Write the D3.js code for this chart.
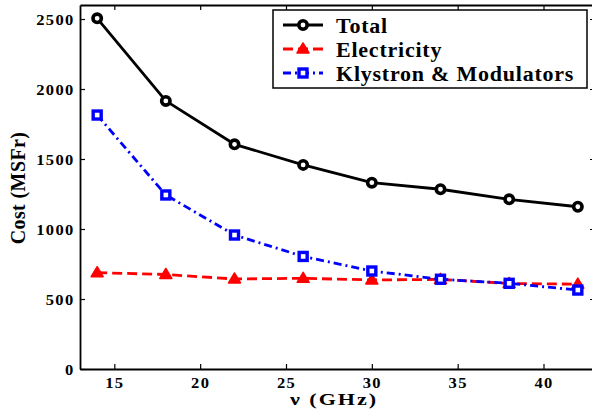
<!DOCTYPE html>
<html>
<head>
<meta charset="utf-8">
<script src="https://cdn.jsdelivr.net/npm/d3@7"></script>
<style>
  html, body { margin: 0; padding: 0; background: #fff; }
  svg { display: block; }
  text { font-family: "Liberation Serif", "Times New Roman", serif; font-weight: bold; fill: #000; }
</style>
</head>
<body>
<svg id="chart" width="592" height="413"></svg>
<script>
// Frequency points (GHz)
const freqs = [14, 18, 22, 26, 30, 34, 38, 42];
// Cost series (MSFr)
const totalCost = [2505, 1915, 1605, 1458, 1331, 1284, 1212, 1159];
const electricityCost = [688, 675, 643, 648, 636, 640, 611, 606];
const klystronCost = [1814, 1243, 957, 804, 700, 641, 612, 564];
// Axis ticks
const xTicks = [15, 20, 25, 30, 35, 40];
const yTicks = [0, 500, 1000, 1500, 2000, 2500];
const seriesNames = ["Total", "Electricity", "Klystron & Modulators"];

const svg = d3.select("#chart");
const plotLeft = 80, plotRight = 595, plotTop = 5, plotBottom = 369;

const x = d3.scaleLinear().domain([13, 43]).range([plotLeft, plotRight]);
const y = d3.scaleLinear().domain([0, 2600]).range([plotBottom, plotTop]);

const series = [
  { name: seriesNames[0], values: totalCost, color: "#000000", dash: null, marker: "circle" },
  { name: seriesNames[1], values: electricityCost, color: "#ff0000", dash: "10,5", marker: "triangle" },
  { name: seriesNames[2], values: klystronCost, color: "#0000ff", dash: "8,4,2,4", marker: "square" }
];

// Axes: labelled bottom/left, tick-only top/right, ticks pointing inward
function styleAxis(g) {
  g.select(".domain").attr("stroke", "#000").attr("stroke-width", 1.8);
  g.selectAll(".tick line").attr("stroke", "#000").attr("stroke-width", 1.2);
}
const fmt = d3.format("d");

svg.append("g").attr("transform", `translate(0,${plotBottom})`)
  .call(d3.axisBottom(x).tickValues(xTicks).tickFormat(fmt).tickSize(-5).tickSizeOuter(0).tickPadding(0))
  .call(styleAxis)
  .call(g => g.selectAll("text")
    .attr("font-size", 15).attr("fill", "#000").attr("letter-spacing", 1.2)
    .attr("y", 19.5).attr("dy", null)
    .attr("transform", "scale(1.1,1)"));

svg.append("g").attr("transform", `translate(${plotLeft},0)`)
  .call(d3.axisLeft(y).tickValues(yTicks).tickFormat(fmt).tickSize(-5).tickSizeOuter(0).tickPadding(0))
  .call(styleAxis)
  .call(g => g.selectAll("text")
    .attr("font-size", 15).attr("fill", "#000").attr("letter-spacing", 1.2)
    .attr("x", -5.5 / 1.1).attr("dy", "0.35em")
    .attr("transform", "scale(1.1,1)"));

svg.append("g").attr("transform", `translate(0,${plotTop})`)
  .call(d3.axisTop(x).tickValues(xTicks).tickSize(-5).tickSizeOuter(0).tickFormat(""))
  .call(styleAxis);

svg.append("g").attr("transform", `translate(${plotRight},0)`)
  .call(d3.axisRight(y).tickValues(yTicks).tickSize(-5).tickSizeOuter(0).tickFormat(""))
  .call(styleAxis);

// Axis titles
svg.append("text")
  .attr("transform", `translate(334,405) scale(1.3,1)`)
  .attr("text-anchor", "middle")
  .attr("font-size", 17)
  .attr("letter-spacing", 1.5)
  .text("\u03bd (GHz)");

svg.append("text")
  .attr("transform", `translate(25,188) rotate(-90)`)
  .attr("text-anchor", "middle")
  .attr("font-size", 20)
  .attr("letter-spacing", 0.4)
  .text("Cost (MSFr)");

// Marker shapes
function drawMarker(g, type, color, cx, cy) {
  if (type === "circle") {
    g.append("circle").attr("cx", cx).attr("cy", cy).attr("r", 4.2)
      .attr("fill", "#fff").attr("stroke", color).attr("stroke-width", 3.6);
  } else if (type === "triangle") {
    g.append("path")
      .attr("d", `M${cx},${cy - 6} L${cx + 6},${cy + 4} L${cx - 6},${cy + 4} Z`)
      .attr("fill", color).attr("stroke", color).attr("stroke-width", 1.5)
      .attr("stroke-linejoin", "round");
  } else {
    g.append("rect").attr("x", cx - 4).attr("y", cy - 4).attr("width", 8).attr("height", 8)
      .attr("fill", "#fff").attr("stroke", color).attr("stroke-width", 3.4);
  }
}

const line = d3.line().x(d => x(d[0])).y(d => y(d[1]));

// Draw electricity first, then klystron, then total on top
[series[1], series[2], series[0]].forEach(s => {
  const pts = freqs.map((f, i) => [f, s.values[i]]);
  const g = svg.append("g");
  g.append("path").datum(pts)
    .attr("d", line)
    .attr("fill", "none")
    .attr("stroke", s.color)
    .attr("stroke-width", 2.8)
    .attr("stroke-dasharray", s.dash)
    .attr("stroke-linejoin", "round");
  pts.forEach(p => drawMarker(g, s.marker, s.color, x(p[0]), y(p[1])));
});

// Legend
const legend = svg.append("g");
legend.append("rect")
  .attr("x", 273).attr("y", 10).attr("width", 314).attr("height", 78)
  .attr("fill", "#fff").attr("stroke", "#000").attr("stroke-width", 1.5);

series.forEach((s, i) => {
  const ly = 25 + i * 24;
  const g = legend.append("g");
  g.append("line")
    .attr("x1", 283).attr("x2", 323).attr("y1", ly).attr("y2", ly)
    .attr("stroke", s.color).attr("stroke-width", 2.8)
    .attr("stroke-dasharray", s.dash);
  drawMarker(g, s.marker, s.color, 303, ly);
  g.append("text")
    .attr("transform", `translate(336,${ly + 7.5}) scale(1.1,1)`)
    .attr("font-size", 20)
    .attr("letter-spacing", 0.7)
    .text(s.name);
});
</script>
</body>
</html>
